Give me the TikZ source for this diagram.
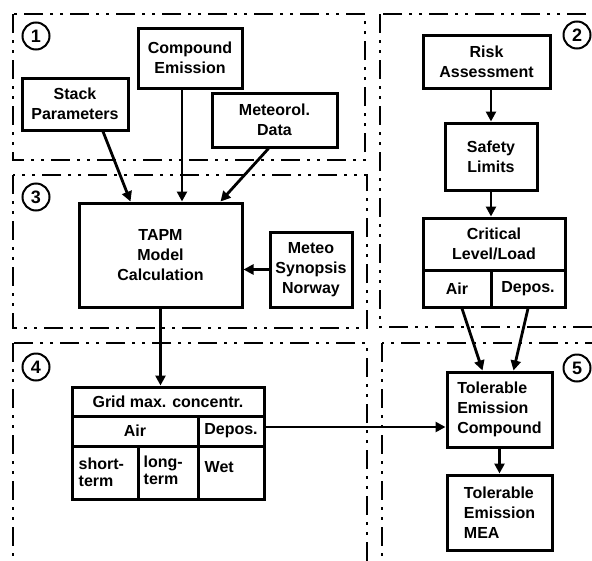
\documentclass[tikz,border=0pt]{standalone}
\usepackage{fontspec}
\setmainfont{Liberation Sans}
\usetikzlibrary{arrows.meta}
\begin{document}
\begin{tikzpicture}[x=1pt,y=-1pt,
  region/.style={line width=2.2pt,dash pattern=on 19pt off 7pt on 3pt off 7pt on 3pt off 7pt},
  box/.style={draw,line width=3pt,inner sep=0pt,align=center,font=\fontsize{16}{20}\selectfont\bfseries},
  cell/.style={draw,line width=3pt,inner sep=0pt},
  celltext/.style={inner sep=0pt,align=left,font=\fontsize{16}{17}\selectfont\bfseries},
  num/.style={draw,circle,line width=2pt,minimum size=27pt,inner sep=0pt,font=\fontsize{18}{18}\selectfont\bfseries},
  arr/.style={line width=2.8pt,-{Triangle[length=10pt,width=10pt]}}]
\path[use as bounding box,clip] (0,0) rectangle (592,560);
\fill[white] (0,0) rectangle (592,560);
% regions
\draw[region] (13,14) rectangle (365,160);
\draw[region] (13,175) rectangle (367,328);
\draw[region] (13,343) rectangle (367,620);
\draw[region] (380,14) rectangle (630,327);
\draw[region] (382,343) rectangle (630,620);
% region numbers
\node[num] (n1) at (36,36) {1};
\node[num] (n2) at (577,35) {2};
\node[num] (n3) at (36,197) {3};
\node[num] (n4) at (36,367) {4};
\node[num] (n5) at (577,368) {5};
% boxes
\node[box,minimum width=106pt,minimum height=52pt] (stack) at (75,104) {Stack\\Parameters};
\node[box,minimum width=104pt,minimum height=60pt] (comp) at (190,58) {Compound\\Emission};
\node[box,minimum width=125pt,minimum height=54pt] (metr) at (274.5,120) {Meteorol.\\Data};
\node[box,minimum width=163pt,minimum height=104pt] (tapm) at (160.5,255) {TAPM\\Model\\Calculation};
\node[box,minimum width=82pt,minimum height=75pt] (meteo) at (311,269.5) {Meteo\\Synopsis\\Norway};
\node[box,minimum width=127pt,minimum height=53pt] (risk) at (486.5,61.5) {Risk\\Assessment};
\node[box,minimum width=92pt,minimum height=67pt] (safety) at (491,156.5) {Safety\\Limits};
% critical level/load
\node[box,minimum width=142pt,minimum height=52pt] (crit) at (494,244) {Critical\\Level/Load};
\node[box,minimum width=68pt,minimum height=37pt] (cair) at (457,288.5) {Air};
\node[box,minimum width=74pt,minimum height=37pt] (cdep) at (528,288.5) {Depos.};
% grid table
\node[box,minimum width=192pt,minimum height=29pt] (gtitle) at (168,401.5) {Grid max. concentr.};
\node[box,minimum width=126pt,minimum height=30pt] (gair) at (135,431) {Air};
\node[box,minimum width=66pt,minimum height=30pt] (gdep) at (231,431) {Depos.};
\node[cell,minimum width=66pt,minimum height=53pt] (gshort) at (105,472.5) {};
\node[cell,minimum width=60pt,minimum height=53pt] (glong) at (168,472.5) {};
\node[cell,minimum width=66pt,minimum height=53pt] (gwet) at (231,472.5) {};
\node[celltext,anchor=north west] (tshort) at ([xshift=8pt,yshift=-13pt]gshort.north west) {short-\\term};
\node[celltext,anchor=north west] (tlong) at ([xshift=7pt,yshift=-11pt]glong.north west) {long-\\term};
\node[celltext,anchor=north west] (twet) at ([xshift=8pt,yshift=-17pt]gwet.north west) {Wet};
% tolerable
\node[box,align=left,minimum width=105pt,minimum height=75pt] (tec) at (499.5,409.5) {Tolerable\\Emission\\Compound};
\node[box,align=left,minimum width=105pt,minimum height=75pt] (mea) at (499.5,512.5) {Tolerable\\Emission\\MEA};
% connectors
\draw[arr] ([xshift=28pt]stack.south) -- ([xshift=-30pt]tapm.north);
\draw[arr] ([xshift=-8pt]comp.south) -- ([xshift=-8pt]comp.south |- tapm.north);
\draw[arr] ([xshift=-6pt]metr.south) -- ([xshift=60pt]tapm.north);
\draw[arr] (meteo.west) -- (meteo.west -| tapm.east);
\draw[arr] (tapm.south) -- (tapm.south |- gtitle.north);
\draw[arr] (safety.north |- risk.south) -- (safety.north);
\draw[arr] (safety.south) -- (safety.south |- crit.north);
\draw[arr] ([xshift=5pt]cair.south) -- ([xshift=-17pt]tec.north);
\draw[arr] (cdep.south) -- ([xshift=14pt]tec.north);
\draw[arr] ([yshift=4pt]gdep.east) -- ([yshift=4pt]gdep.east -| tec.west);
\draw[arr] (tec.south) -- (mea.north);
\end{tikzpicture}
\end{document}
